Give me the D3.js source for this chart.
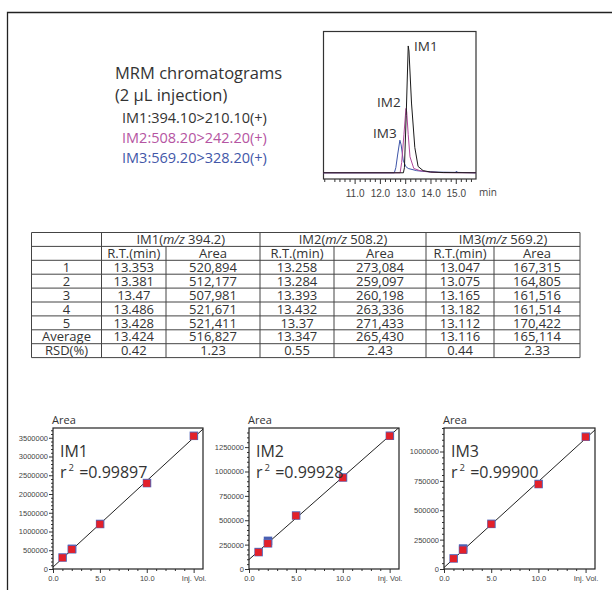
<!DOCTYPE html>
<html><head><meta charset="utf-8">
<script src="https://cdn.jsdelivr.net/npm/d3@7"></script>
<style>
html,body{margin:0;padding:0;background:#fff;}
svg{display:block;font-family:"Open Sans","Noto Sans",sans-serif;}
</style></head><body>
<svg id="c" width="612" height="590"></svg>
<script>
// ---------- DATA ----------
const legendLines = ["IM1:394.10>210.10(+)", "IM2:508.20>242.20(+)", "IM3:569.20>328.20(+)"];
const chromTickLabels = [11, 12, 13, 14, 15];
// chromatogram traces [time(min), relative intensity]
const im1Trace = [[9.75,0],[12.93,0],[12.97,4],[13.04,45],[13.12,100],[13.15,96],[13.25,55],[13.38,20],[13.51,5],[13.71,1.7],[14.0,0.6],[14.5,0.2],[15.8,0]];
const im2Trace = [[9.75,0],[12.8,0],[12.86,8],[12.95,30],[13.03,50.7],[13.06,48],[13.12,30],[13.19,12.6],[13.34,3.4],[13.58,1.7],[14.0,0.5],[14.5,0.1],[15.8,0]];
const im3Trace = [[9.75,0],[12.57,0],[12.63,4],[12.7,14],[12.79,25.7],[12.84,22],[12.92,10],[13.02,5],[13.12,3.4],[13.45,1.7],[13.78,1],[14.3,0.5],[15.0,0.3],[15.03,1.4],[15.06,0.3],[15.8,0]];
// table
const rowLabels = ["1","2","3","4","5","Average","RSD(%)"];
const groupNames = ["IM1", "IM2", "IM3"];
const groupMz = ["394.2", "508.2", "569.2"];
const im1RT = ["13.353","13.381","13.47","13.486","13.428","13.424","0.42"];
const im1Area = ["520,894","512,177","507,981","521,671","521,411","516,827","1.23"];
const im2RT = ["13.258","13.284","13.393","13.432","13.37","13.347","0.55"];
const im2Area = ["273,084","259,097","260,198","263,336","271,433","265,430","2.43"];
const im3RT = ["13.047","13.075","13.165","13.182","13.112","13.116","0.44"];
const im3Area = ["167,315","164,805","161,516","161,514","170,422","165,114","2.33"];
// calibration
const injVol = [1, 2, 5, 10, 15];
const im1Cal = [300000, 522000, 1194000, 2285000, 3545000];
const im2Cal = [171000, 261000, 546000, 936000, 1364000];
const im3Cal = [88000, 162000, 382000, 721000, 1124000];
const im1Rep2 = 530000, im2Rep2 = 286000, im3Rep2 = 172000;
const r2Values = ["0.99897", "0.99928", "0.99900"];
const xTickLabels = ["0.0", "5.0", "10.0", "Inj. Vol."];

// ---------- DRAW ----------
const svg = d3.select("#c");
const ink = "#333";

// outer frame
svg.append("path").attr("d", "M7.5,590 L7.5,12.5 L612,12.5").attr("fill","none").attr("stroke","#222").attr("stroke-width",1.3);

// left text block
const tb = svg.append("g").attr("fill", ink);
tb.append("text").attr("x",115).attr("y",79).attr("font-size",16.5).text("MRM chromatograms");
tb.append("text").attr("x",115).attr("y",101).attr("font-size",16.5).text("(2 µL injection)");
const legCols = ["#333", "#b555a2", "#4257a8"];
legendLines.forEach((t,i)=>{
  tb.append("text").attr("x",122).attr("y",123+i*20).attr("font-size",14.5).attr("fill",legCols[i]).text(t);
});

// chromatogram
const cx = d3.scaleLinear().domain([9.75,15.8]).range([323,476]);
const cy = d3.scaleLinear().domain([-4.9,111.8]).range([179,31]);
const cg = svg.append("g");
cg.append("rect").attr("x",323.5).attr("y",31.5).attr("width",152.5).attr("height",147.5).attr("fill","none").attr("stroke","#333").attr("stroke-width",1.2);
const line = d3.line().x(d=>cx(d[0])).y(d=>cy(d[1]));
[[im3Trace,"#3d54a8"],[im2Trace,"#b0479a"],[im1Trace,"#1a1a1a"]].forEach(([tr,col])=>{
  cg.append("path").datum(tr).attr("d",line).attr("fill","none").attr("stroke",col).attr("stroke-width",1);
});
// axis
const minorT = d3.range(9.8, 15.75, 0.2).filter(v=>Math.abs(v-Math.round(v))>0.05);
const axMinor = d3.axisBottom(cx).tickValues(minorT).tickSize(3).tickFormat("");
const axMajor = d3.axisBottom(cx).tickValues(chromTickLabels).tickSize(5).tickFormat(d3.format(".1f"));
const ga1 = cg.append("g").attr("transform","translate(0,179)").call(axMinor);
const ga2 = cg.append("g").attr("transform","translate(0,179)").call(axMajor);
[ga1,ga2].forEach(g=>{g.select(".domain").remove(); g.selectAll("line").attr("stroke","#333");});
ga2.selectAll("text").attr("font-size",10).attr("fill","#444").attr("dy","0.95em").attr("font-family","inherit");
cg.append("text").attr("x",479).attr("y",196).attr("font-size",10).attr("fill","#444").text("min");
cg.append("text").attr("x",414).attr("y",51).attr("font-size",13.5).attr("fill",ink).text("IM1");
cg.append("text").attr("x",377).attr("y",107).attr("font-size",13.5).attr("fill",ink).text("IM2");
cg.append("text").attr("x",373).attr("y",138).attr("font-size",13.5).attr("fill",ink).text("IM3");

// table
const colX = [31.5, 101.5, 166, 260, 334, 426, 494, 580];
const tTop = 232.5, rowH = 13.9, nRows = 2 + rowLabels.length;
const tg = svg.append("g");
const tStroke = "#444";
const yRow = i => tTop + i*rowH;
d3.range(nRows+1).forEach(i=>{
  tg.append("line").attr("x1",colX[0]).attr("x2",colX[7]).attr("y1",yRow(i)).attr("y2",yRow(i)).attr("stroke",tStroke).attr("stroke-width",1);
});
colX.forEach((x,j)=>{
  const sub = (j===2||j===4||j===6);
  tg.append("line").attr("x1",x).attr("x2",x).attr("y1", sub? yRow(1): yRow(0)).attr("y2",yRow(nRows)).attr("stroke",tStroke).attr("stroke-width",1);
});
const tt = (x,i,txt)=>tg.append("text").attr("x",x).attr("y",yRow(i)+rowH/2).attr("dy","0.36em").attr("text-anchor","middle").attr("font-size",13).attr("fill",ink).text(txt);
groupNames.forEach((g,k)=>{
  const x = (colX[1+2*k]+colX[3+2*k])/2;
  const t = tg.append("text").attr("x",x).attr("y",yRow(0)+rowH/2).attr("dy","0.36em").attr("text-anchor","middle").attr("font-size",13).attr("fill",ink);
  t.append("tspan").text(g+"(");
  t.append("tspan").attr("font-style","italic").text("m/z");
  t.append("tspan").text(" "+groupMz[k]+")");
  tt((colX[1+2*k]+colX[2+2*k])/2, 1, "R.T.(min)");
  tt((colX[2+2*k]+colX[3+2*k])/2, 1, "Area");
});
const cols = [im1RT, im1Area, im2RT, im2Area, im3RT, im3Area];
rowLabels.forEach((lab,i)=>{
  tt((colX[0]+colX[1])/2, i+2, lab);
  cols.forEach((c,j)=>tt((colX[j+1]+colX[j+2])/2, i+2, c[i]));
});

// calibration plots
function calPlot(x0, x1, yMax, vals, rep2, name, r2, major, minor, idx){
  const top = 428, bot = 569;
  const x = d3.scaleLinear().domain([0,16]).range([x0,x1]);
  const y = d3.scaleLinear().domain([0,yMax]).range([bot,top]);
  const g = svg.append("g");
  const cid = "clip"+idx;
  g.append("clipPath").attr("id",cid).append("rect").attr("x",x0).attr("y",top).attr("width",x1-x0).attr("height",bot-top);
  const ymaj = d3.range(0, yMax+1, major);
  const ymin = d3.range(0, yMax+1, minor).filter(v=>v%major!==0);
  const ay1 = g.append("g").attr("transform",`translate(${x0},0)`).call(d3.axisLeft(y).tickValues(ymin).tickSize(2).tickFormat(""));
  const ay2 = g.append("g").attr("transform",`translate(${x0},0)`).call(d3.axisLeft(y).tickValues(ymaj).tickSize(4).tickFormat(d3.format("d")).tickPadding(1));
  const xmin = d3.range(1,16).filter(v=>v%5!==0);
  const ax1 = g.append("g").attr("transform",`translate(0,${bot})`).call(d3.axisBottom(x).tickValues(xmin).tickSize(2).tickFormat(""));
  const ax2 = g.append("g").attr("transform",`translate(0,${bot})`).call(d3.axisBottom(x).tickValues([0,5,10,15]).tickSize(4).tickFormat((d,i)=>xTickLabels[i]));
  [ay1,ay2,ax1,ax2].forEach(a=>{a.select(".domain").remove(); a.selectAll("line").attr("stroke","#333");});
  [ay2,ax2].forEach(a=>a.selectAll("text").attr("font-size",7.5).attr("fill","#444").attr("font-family","inherit"));
  g.append("rect").attr("x",x0).attr("y",top).attr("width",x1-x0).attr("height",bot-top).attr("fill","none").attr("stroke","#222").attr("stroke-width",1.2);
  // regression line (least squares)
  const mx = d3.mean(injVol), my = d3.mean(vals);
  const sxy = d3.sum(injVol.map((v,i)=>(v-mx)*(vals[i]-my)));
  const sxx = d3.sum(injVol.map(v=>(v-mx)*(v-mx)));
  const b = sxy/sxx, a = my - b*mx;
  g.append("line").attr("clip-path",`url(#${cid})`).attr("x1",x(0)).attr("y1",y(a)).attr("x2",x(17)).attr("y2",y(a+b*17)).attr("stroke","#222").attr("stroke-width",1);
  const pts = injVol.map((v,i)=>[v,vals[i]]);
  g.append("rect").attr("x",x(2)-4).attr("y",y(rep2)-4.5).attr("width",8.5).attr("height",8.5).attr("fill","#4a5fb2");
  g.selectAll(".bq"+idx).data(pts).join("rect").attr("x",d=>x(d[0])-4).attr("y",d=>y(d[1])-4.5).attr("width",8.5).attr("height",8.5).attr("fill","#5567b8");
  g.selectAll(".rq"+idx).data(pts).join("rect").attr("x",d=>x(d[0])-3.5).attr("y",d=>y(d[1])-3.5).attr("width",7).attr("height",7).attr("fill","#e3202a");
  g.append("text").attr("x",x0-1).attr("y",top-4).attr("font-size",11).attr("fill",ink).text("Area");
  g.append("text").attr("x",x0+7).attr("y",top+29).attr("font-size",16).attr("fill",ink).text(name);
  const t = g.append("text").attr("x",x0+7).attr("y",top+50).attr("font-size",16).attr("fill",ink);
  t.append("tspan").text("r");
  t.append("tspan").attr("font-size",9.5).attr("dx",2).attr("dy",-7).text("2");
  t.append("tspan").attr("dy",7).attr("dx",1).text(" =" + r2);
}
calPlot(53, 203, 3760000, im1Cal, im1Rep2, "IM1", r2Values[0], 500000, 100000, 1);
calPlot(249, 399, 1446000, im2Cal, im2Rep2, "IM2", r2Values[1], 250000, 50000, 2);
calPlot(444, 595, 1200000, im3Cal, im3Rep2, "IM3", r2Values[2], 250000, 50000, 3);
</script>
</body></html>
